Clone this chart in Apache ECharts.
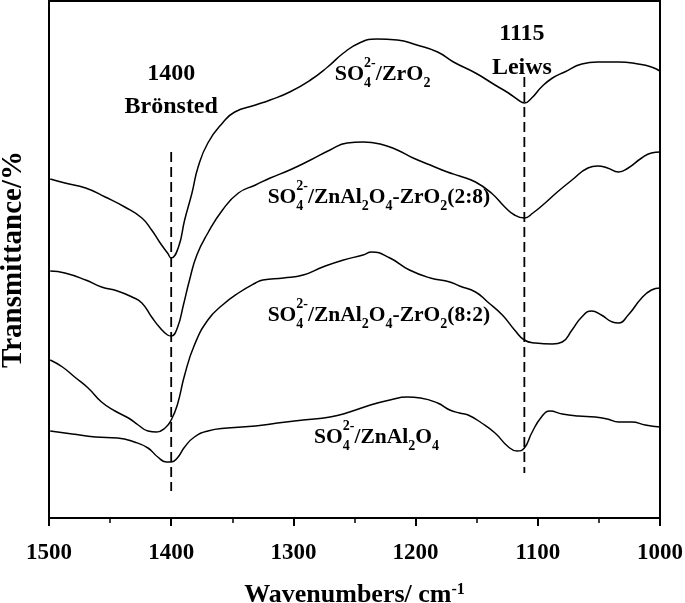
<!DOCTYPE html>
<html><head><meta charset="utf-8">
<script src="https://cdn.jsdelivr.net/npm/echarts@6/dist/echarts.min.js"></script>
<style>html,body{margin:0;padding:0;background:#fff}#c{width:685px;height:603px}</style>
</head><body><div id="c"></div>
<script>
// ---- data (wavenumber in cm-1, transmittance in arbitrary units) ----
const xTicks = [1500, 1400, 1300, 1200, 1100, 1000];

const zrWave = [1499,1487,1470,1454,1438,1424,1416,1409,1403,1400,1394,1389,1383,1378,1370,1358,1348,1331,1319,1303,1286,1272,1259,1246,1232,1215,1199,1182,1169,1151,1135,1124,1116,1111,1105,1097,1088,1078,1064,1051,1034,1018,1007,1000];
const zrT    = [339,335,330,321,311,300,288,275,265,260,271,298,325,351,375,395,406,413,418,426,438,451,465,475,479,478,473,466,456,445,433,425,418,415,420,431,440,446,454,456,456,454,451,447];

const w28Wave = [1499,1487,1470,1457,1444,1432,1424,1416,1409,1403,1400,1395,1390,1385,1379,1370,1358,1345,1331,1319,1303,1286,1270,1256,1243,1229,1215,1202,1188,1174,1164,1151,1138,1127,1119,1111,1104,1094,1084,1072,1059,1051,1043,1034,1026,1015,1007,1000];
const w28T    = [247,245,238,231,227,221,215,201,190,183,182,190,213,238,263,285,308,325,333,340,348,358,368,375,376,374,368,360,353,346,342,336,325,311,303,300,305,315,326,338,350,352,350,346,350,360,365,366];

const w82Wave = [1499,1489,1479,1468,1457,1446,1435,1427,1419,1412,1405,1400,1395,1389,1381,1370,1358,1345,1331,1325,1308,1292,1276,1259,1243,1236,1221,1205,1188,1172,1164,1151,1141,1129,1119,1111,1102,1088,1080,1072,1064,1056,1048,1039,1034,1026,1015,1007,1000];
const w82T    = [158,151,141,130,116,107,100,93,87,86,90,98,113,143,173,198,213,225,235,238,240,243,251,258,263,266,260,248,240,236,232,226,216,203,188,178,175,174,176,188,201,207,203,196,195,203,220,228,230];

const znWave = [1499,1481,1462,1444,1430,1419,1411,1404,1400,1395,1389,1381,1370,1354,1331,1313,1292,1270,1254,1237,1221,1207,1196,1182,1172,1164,1157,1146,1135,1124,1117,1111,1105,1097,1090,1080,1067,1053,1043,1034,1023,1012,1000];
const znT    = [87,84,81,80,76,70,61,56,56,60,71,81,87,90,92,95,98,101,106,113,118,121,120,115,108,105,103,95,85,71,67,70,85,101,107,104,102,101,99,96,96,93,91];

// reference band lines: [wavenumber, top, bottom]
const bronstedBand = [1400, 366, 27];
const lewisBand = [1111, 441, 45];

// annotation texts: text, wavenumber, transmittance (anchor)
const bandTexts = [
  ['1400', 1400, 444.5],
  ['Brönsted', 1400, 411],
  ['1115', 1113, 484],
  ['Leiws', 1113, 450]
];
const seriesLabels = [
  { parts: [{t:'SO'},{sup:'2-',sub:'4'},{t:'/ZrO'},{sub:'2'}], wave: 1227, trans: 444 },
  { parts: [{t:'SO'},{sup:'2-',sub:'4'},{t:'/ZnAl'},{sub:'2'},{t:'O'},{sub:'4'},{t:'-ZrO'},{sub:'2'},{t:'(2:8)'}], wave: 1230, trans: 321 },
  { parts: [{t:'SO'},{sup:'2-',sub:'4'},{t:'/ZnAl'},{sub:'2'},{t:'O'},{sub:'4'},{t:'-ZrO'},{sub:'2'},{t:'(8:2)'}], wave: 1230, trans: 203 },
  { parts: [{t:'SO'},{sup:'2-',sub:'4'},{t:'/ZnAl'},{sub:'2'},{t:'O'},{sub:'4'}], wave: 1232, trans: 81 }
];

const zip = (a, b) => a.map((v, i) => [v, b[i]]);
const FONT = 'Liberation Serif';

const chart = echarts.init(document.getElementById('c'), null, { renderer: 'canvas' });

function curve(name, w, t) {
  return { name, type: 'line', data: zip(w, t), showSymbol: false, symbol: 'none',
    smooth: 0.5, lineStyle: { color: '#000', width: 1.5 }, silent: true, z: 3 };
}
function band(b) {
  return { type: 'line', data: [[b[0], b[1]], [b[0], b[2]]], showSymbol: false, symbol: 'none',
    lineStyle: { color: '#000', width: 1.8, type: [10, 5] }, silent: true, z: 2 };
}

const option = {
  animation: false,
  backgroundColor: '#fff',
  grid: { left: 49, right: 25, top: 1, bottom: 85, show: true, borderColor: '#000', borderWidth: 2,
    containLabel: false, outerBoundsMode: 'none' },
  xAxis: {
    type: 'value', inverse: true, min: 1000, max: 1500, interval: 100,
    axisLine: { show: true, lineStyle: { color: '#000', width: 2 } },
    axisTick: { show: true, inside: false, length: 8, lineStyle: { color: '#000', width: 2 } },
    minorTick: { show: true, splitNumber: 2, length: 5, lineStyle: { color: '#000', width: 1.5 } },
    splitLine: { show: false },
    axisLabel: { color: '#000', fontFamily: FONT, fontWeight: 'bold', fontSize: 23, margin: 24,
      formatter: v => String(v) },
    name: 'Wavenumbers/ cm{sup|-1}', nameLocation: 'middle', nameGap: 64,
    nameTextStyle: { color: '#000', fontFamily: FONT, fontWeight: 'bold', fontSize: 26,
      rich: { sup: { color: '#000', fontFamily: FONT, fontWeight: 'bold', fontSize: 16, verticalAlign: 'top', padding: [0, 0, 10, 0] } } }
  },
  yAxis: {
    type: 'value', min: 0, max: 517,
    axisLine: { show: false }, axisTick: { show: false }, axisLabel: { show: false }, splitLine: { show: false },
    name: 'Transmittance/%', nameLocation: 'middle', nameRotate: 90, nameGap: 21,
    nameTextStyle: { color: '#000', fontFamily: FONT, fontWeight: 'bold', fontSize: 29 }
  },
  series: [
    curve('SO4/ZrO2', zrWave, zrT),
    curve('SO4/ZnAl2O4-ZrO2(2:8)', w28Wave, w28T),
    curve('SO4/ZnAl2O4-ZrO2(8:2)', w82Wave, w82T),
    curve('SO4/ZnAl2O4', znWave, znT),
    band(bronstedBand),
    band(lewisBand)
  ]
};
chart.setOption(option);

// ---- annotation text placed at data coordinates ----
const ctx = document.createElement('canvas').getContext('2d');
function measure(txt, size) { ctx.font = 'bold ' + size + 'px "' + FONT + '"'; return ctx.measureText(txt).width; }
function textEl(text, x, y, size, align) {
  return { type: 'text', x, y, silent: true, z: 10,
    style: { text, fontFamily: FONT, fontWeight: 'bold', fontSize: size, fill: '#000',
      textAlign: align, textVerticalAlign: 'middle', align: align, verticalAlign: 'middle' } };
}
function buildLabel(parts, cx, cy, fs, sfs) {
  const items = []; let w = 0;
  parts.forEach(p => {
    if (p.t !== undefined) { items.push([p.t, w, 0, fs]); w += measure(p.t, fs); }
    else {
      let pw = 0;
      if (p.sup) { items.push([p.sup, w, -0.48 * fs, sfs]); pw = Math.max(pw, measure(p.sup, sfs)); }
      if (p.sub) { items.push([p.sub, w, 0.42 * fs, sfs]); pw = Math.max(pw, measure(p.sub, sfs)); }
      w += pw;
    }
  });
  const x0 = cx - w / 2;
  return items.map(it => textEl(it[0], x0 + it[1], cy + it[2], it[3], 'left'));
}
const els = [];
bandTexts.forEach(b => {
  const p = chart.convertToPixel({ gridIndex: 0 }, [b[1], b[2]]);
  els.push(textEl(b[0], p[0], p[1], 24, 'center'));
});
seriesLabels.forEach(l => {
  const p = chart.convertToPixel({ gridIndex: 0 }, [l.wave, l.trans]);
  buildLabel(l.parts, p[0], p[1], l.parts.length > 5 ? 21.5 : 22, 14).forEach(e => els.push(e));
});
chart.setOption({ graphic: { elements: els } });
</script>
</body></html>
